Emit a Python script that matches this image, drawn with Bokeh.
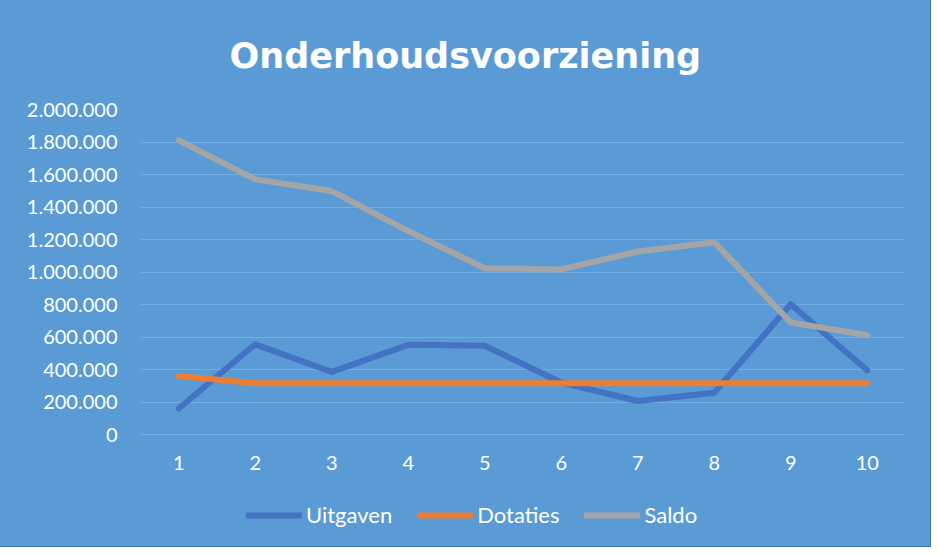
from bokeh.plotting import figure
from bokeh.models import Range1d, FixedTicker, Legend, LegendItem
from bokeh.core.properties import value
from bokeh.embed import file_html
from bokeh.resources import INLINE

periods = [1, 2, 3, 4, 5, 6, 7, 8, 9, 10]
uitgaven = [160000, 555000, 385000, 552000, 546000, 320000, 206000, 257000, 802000, 395000]
dotaties = [360000, 315000, 315000, 315000, 315000, 315000, 315000, 315000, 315000, 315000]
saldo = [1810000, 1570000, 1498000, 1252000, 1023000, 1016000, 1126000, 1183000, 690000, 611000]

series_names = ["Uitgaven", "Dotaties", "Saldo"]
series_colors = ["#4472C4", "#ED7D31", "#A5A5A5"]

x_tick_labels = ["1", "2", "3", "4", "5", "6", "7", "8", "9", "10"]
y_ticks = [0, 200000, 400000, 600000, 800000, 1000000, 1200000, 1400000, 1600000, 1800000, 2000000]
y_tick_labels = ["0", "200.000", "400.000", "600.000", "800.000", "1.000.000",
                 "1.200.000", "1.400.000", "1.600.000", "1.800.000", "2.000.000"]

BG = "#5B9BD5"
FONT = "Lato"
W, H = 930, 546
TOP, BOTTOM_PAD = 109, 112          # px above the 2.000.000 line, px below the 0 line
PLOT_H = H - TOP - BOTTOM_PAD         # px between 0 and 2.000.000
Y_MAX = y_ticks[-1]
Y_MIN = -Y_MAX * BOTTOM_PAD / PLOT_H  # room under the 0 line for tick labels and legend

p = figure(width=W, height=H, output_backend="svg", toolbar_location=None,
           x_axis_type=None,
           x_range=Range1d(0.5, 10.5), y_range=Range1d(Y_MIN, Y_MAX),
           min_border_left=140, min_border_right=25, min_border_top=TOP, min_border_bottom=0)

p.styles = {"background-color": BG, "outline": "1px solid #41719C"}
p.background_fill_color = None
p.border_fill_color = BG
p.outline_line_color = None

p.title.text = "Onderhoudsvoorziening"
p.title.align = "left"
p.title.offset = 89
p.title.text_color = "white"
p.title.text_font = "DejaVu Sans"
p.title.text_font_style = "bold"
p.title.text_font_size = "35px"
p.title.standoff = 67

p.ygrid.grid_line_color = "#75ADE0"
p.ygrid.grid_line_width = 1
p.ygrid.ticker = FixedTicker(ticks=y_ticks)

p.yaxis.ticker = FixedTicker(ticks=y_ticks)
p.yaxis.major_label_overrides = {t: l for t, l in zip(y_ticks, y_tick_labels)}
ax = p.yaxis[0]
ax.axis_line_color = None
ax.major_tick_line_color = None
ax.minor_tick_line_color = None
ax.major_tick_out = 0
ax.major_tick_in = 0
ax.minor_tick_out = 0
ax.major_label_text_color = "white"
ax.major_label_text_font = FONT
ax.major_label_text_font_size = "20px"
ax.major_label_standoff = 23

# category labels under the 0 line
p.text(x=periods, y=[0] * len(periods), text=x_tick_labels, y_offset=28,
       text_align="center", text_baseline="middle", text_color="white",
       text_font=value(FONT), text_font_size="20px")

renderers = []
for vals, col in zip([uitgaven, dotaties, saldo], series_colors):
    renderers.append(p.line(periods, vals, line_color=col, line_width=6,
                            line_cap="round", line_join="round"))

legend = Legend(items=[LegendItem(label=n, renderers=[r]) for n, r in zip(series_names, renderers)],
                orientation="horizontal", location=(106, 18))
legend.background_fill_alpha = 0
legend.border_line_color = None
legend.label_text_color = "white"
legend.label_text_font = FONT
legend.label_text_font_size = "22px"
legend.glyph_width = 56
legend.glyph_height = 22
legend.label_standoff = 4
legend.spacing = 25
legend.margin = 0
legend.padding = 0
p.add_layout(legend, "center")

open("out.html", "w").write(file_html(p, INLINE))
